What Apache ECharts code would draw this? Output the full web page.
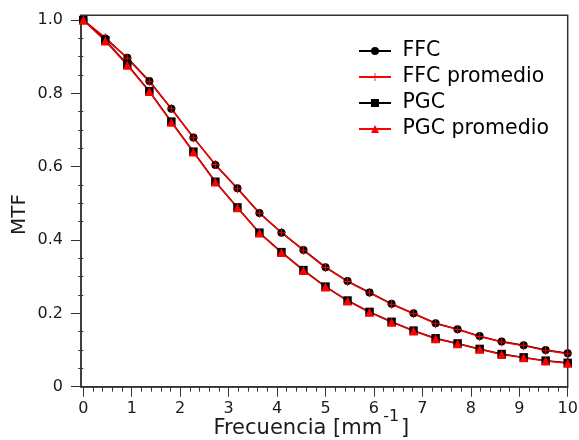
<!DOCTYPE html>
<html><head><meta charset="utf-8">
<script src="https://cdn.jsdelivr.net/npm/echarts@6/dist/echarts.min.js"></script>
<style>html,body{margin:0;padding:0;background:#fff}#c{width:579px;height:440px}</style>
</head><body><div id="c"></div>
<script>
const freq = [0, 0.455, 0.909, 1.364, 1.818, 2.273, 2.727, 3.182, 3.636, 4.091, 4.545, 5.0, 5.455, 5.909, 6.364, 6.818, 7.273, 7.727, 8.182, 8.636, 9.091, 9.545, 10.0];
const ffc     = [1.0, 0.950, 0.897, 0.834, 0.758, 0.680, 0.605, 0.541, 0.474, 0.420, 0.373, 0.326, 0.288, 0.257, 0.226, 0.200, 0.173, 0.157, 0.138, 0.123, 0.113, 0.100, 0.091];
const ffcMean = [1.0, 0.952, 0.896, 0.832, 0.759, 0.679, 0.606, 0.540, 0.473, 0.421, 0.372, 0.325, 0.287, 0.256, 0.225, 0.199, 0.172, 0.156, 0.137, 0.122, 0.112, 0.099, 0.090];
const pgc     = [1.0, 0.945, 0.879, 0.806, 0.723, 0.641, 0.559, 0.489, 0.420, 0.367, 0.318, 0.273, 0.235, 0.204, 0.177, 0.153, 0.132, 0.118, 0.103, 0.089, 0.080, 0.071, 0.065];
const pgcMean = [1.0, 0.943, 0.877, 0.805, 0.721, 0.640, 0.558, 0.488, 0.419, 0.366, 0.317, 0.272, 0.234, 0.203, 0.176, 0.152, 0.131, 0.117, 0.102, 0.088, 0.079, 0.070, 0.064];
const seriesNames = ['FFC', 'FFC promedio', 'PGC', 'PGC promedio'];
const xTicks = [0, 1, 2, 3, 4, 5, 6, 7, 8, 9, 10];
const xMinorTicks = [0.2,0.4,0.6,0.8, 1.2,1.4,1.6,1.8, 2.2,2.4,2.6,2.8, 3.2,3.4,3.6,3.8, 4.2,4.4,4.6,4.8, 5.2,5.4,5.6,5.8, 6.2,6.4,6.6,6.8, 7.2,7.4,7.6,7.8, 8.2,8.4,8.6,8.8, 9.2,9.4,9.6,9.8];
const yTicks = [0, 0.2, 0.4, 0.6, 0.8, 1.0];
const yMinorTicks = [0.05,0.1,0.15, 0.25,0.3,0.35, 0.45,0.5,0.55, 0.65,0.7,0.75, 0.85,0.9,0.95];
const xTitle = 'Frecuencia [mm';
const xTitleSup = '-1';
const yTitle = 'MTF';

const FONT = 'DejaVu Sans';
const AX = '#333';
const xMin = -0.047, xMax = 10, yMin = 0, yMax = 1.013;

const plusPath = 'path://M3.6,0 L4.4,0 L4.4,3.6 L8,3.6 L8,4.4 L4.4,4.4 L4.4,8 L3.6,8 L3.6,4.4 L0,4.4 L0,3.6 L3.6,3.6 Z';

function pts(arr) { return freq.map((f, i) => [f, arr[i]]); }

const chart = echarts.init(document.getElementById('c'), null, {renderer: 'canvas'});

chart.setOption({
  animation: false,
  textStyle: {fontFamily: FONT},
  grid: {left: 81, right: 11.3, top: 15.3, bottom: 53.3, containLabel: false, outerBoundsMode: 'none',
         show: true, borderColor: AX, borderWidth: 1.5, backgroundColor: 'transparent'},
  legend: {
    orient: 'vertical', left: 353, top: 35.5, itemWidth: 32, itemHeight: 10, itemGap: 5,
    textStyle: {fontFamily: FONT, fontSize: 20.5, color: '#000', padding: [0, 0, 0, 6.5]},
    data: seriesNames
  },
  xAxis: [{
    type: 'value', min: xMin, max: xMax, position: 'bottom',
    axisLine: {show: true, onZero: false, lineStyle: {color: AX, width: 1.5}},
    axisTick: {show: true, inside: false, length: 10, customValues: xTicks, lineStyle: {color: AX, width: 1}},
    axisLabel: {customValues: xTicks, margin: 14, fontSize: 16, color: '#1a1a1a', fontFamily: FONT, formatter: v => String(v)},
    splitLine: {show: false},
    name: '{a|' + xTitle + '}{s|' + xTitleSup + '}{a|]}', nameLocation: 'middle', nameGap: 22.3,
    nameMoveOverlap: false,
    nameTextStyle: {
      padding: [0, 26, 0, 0],
      rich: {
        a: {fontFamily: FONT, fontSize: 21, color: '#1a1a1a', lineHeight: 30, verticalAlign: 'bottom'},
        s: {fontFamily: FONT, fontSize: 16, color: '#1a1a1a', lineHeight: 14, verticalAlign: 'top', padding: [0, 2, 0, 1]}
      }
    }
  }, {
    type: 'value', min: xMin, max: xMax, position: 'bottom', offset: 0,
    axisLine: {show: false},
    axisTick: {show: true, inside: false, length: 5, customValues: xMinorTicks, lineStyle: {color: AX, width: 1}},
    axisLabel: {show: false},
    splitLine: {show: false}
  }],
  yAxis: [{
    type: 'value', min: yMin, max: yMax, position: 'left',
    axisLine: {show: true, onZero: false, lineStyle: {color: AX, width: 1.5}},
    axisTick: {show: true, inside: false, length: 10, customValues: yTicks, lineStyle: {color: AX, width: 1}},
    axisLabel: {customValues: yTicks, margin: 18, fontSize: 16, color: '#1a1a1a', fontFamily: FONT,
      formatter: v => (v === 0 ? '0' : v.toFixed(1))},
    splitLine: {show: false},
    name: yTitle, nameLocation: 'middle', nameGap: 51, nameRotate: 90, nameMoveOverlap: false,
    nameTextStyle: {fontFamily: FONT, fontSize: 20, color: '#1a1a1a', padding: [0, 27, 0, 0]}
  }, {
    type: 'value', min: yMin, max: yMax, position: 'left', offset: 0,
    axisLine: {show: false},
    axisTick: {show: true, inside: false, length: 5, customValues: yMinorTicks, lineStyle: {color: AX, width: 1}},
    axisLabel: {show: false},
    splitLine: {show: false}
  }],
  series: [
    {name: seriesNames[0], type: 'line', data: pts(ffc), symbol: 'circle', symbolSize: 8,
     itemStyle: {color: '#000'}, lineStyle: {color: '#000', width: 1.5}, emphasis: {disabled: true}},
    {name: seriesNames[1], type: 'line', data: pts(ffcMean), symbol: plusPath, symbolSize: 9,
     itemStyle: {color: '#ff0000'}, lineStyle: {color: '#ff0000', width: 1.5}, emphasis: {disabled: true}},
    {name: seriesNames[2], type: 'line', data: pts(pgc), symbol: 'rect', symbolSize: 8.5,
     itemStyle: {color: '#000'}, lineStyle: {color: '#000', width: 1.5}, emphasis: {disabled: true}},
    {name: seriesNames[3], type: 'line', data: pts(pgcMean), symbol: 'triangle', symbolSize: 9,
     itemStyle: {color: '#ff0000'}, lineStyle: {color: '#ff0000', width: 1.5}, emphasis: {disabled: true}}
  ]
});
</script>
</body></html>
